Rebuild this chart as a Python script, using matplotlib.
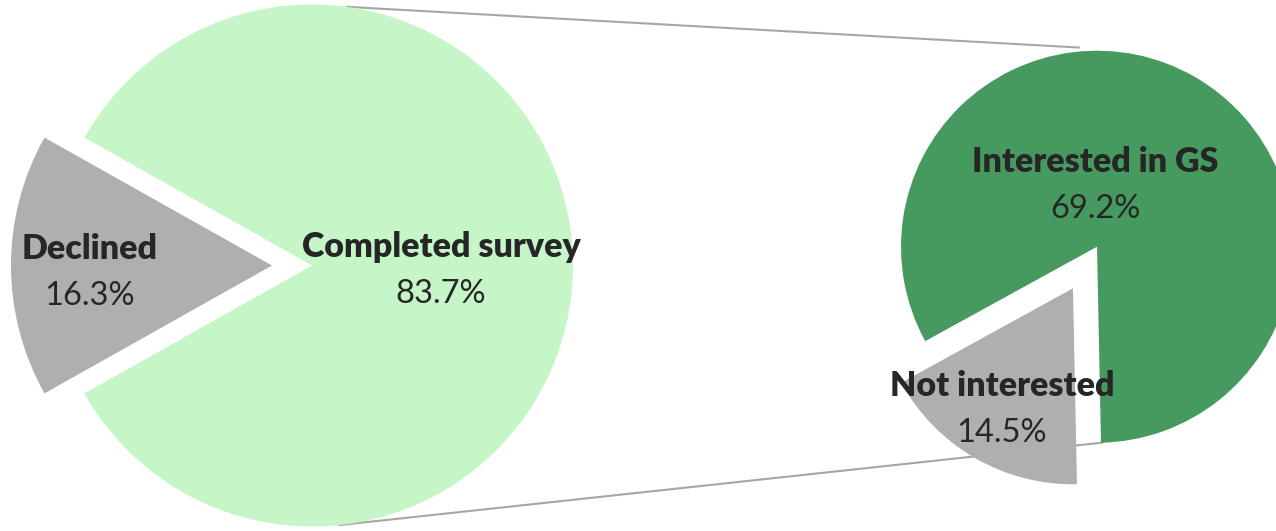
import numpy as np
import matplotlib.pyplot as plt

# data
outer_labels = ['Declined', 'Completed survey']
outer_values = [16.3, 83.7]
inner_labels = ['Not interested', 'Interested in GS']
inner_values = [14.5, 69.2]

outer_colors = ['#afafaf', '#c6f6c8']
inner_colors = ['#afafaf', '#479a5f']
txt_color = '#262626'

plt.rcParams['font.family'] = ['Lato', 'DejaVu Sans']

W, H = 1276, 531
fig = plt.figure(figsize=(W / 100, H / 100), dpi=100)
ax = fig.add_axes([0, 0, 1, 1])

# left pie (pixel coords, y up); explode is in data units here
c1 = (312, H - 265.5)
r1 = 261
start1 = 180 - outer_values[0] / sum(outer_values) * 180
ax.pie(outer_values, colors=outer_colors, startangle=start1, counterclock=True,
       center=c1, radius=r1, explode=[40, 0],
       wedgeprops=dict(linewidth=0), frame=True)

# right pie
c2 = (1085, H - 267.5)
r2 = 196
ax.pie(inner_values, colors=inner_colors, startangle=208.8, counterclock=True,
       center=c2, radius=r2, explode=[24, 24],
       wedgeprops=dict(linewidth=0), frame=True)

# connector lines
green_apex = (c2[0] + 24 * np.cos(np.radians(60)), c2[1] + 24 * np.sin(np.radians(60)))
p_top_l = (c1[0] + r1 * np.cos(np.radians(82.3)), c1[1] + r1 * np.sin(np.radians(82.3)))
p_bot_l = (c1[0] + r1 * np.cos(np.radians(-83.9)), c1[1] + r1 * np.sin(np.radians(-83.9)))
p_top_r = (green_apex[0] + 200 * np.cos(np.radians(95.2)), green_apex[1] + 200 * np.sin(np.radians(95.2)))
p_bot_r = (green_apex[0] + r2 * np.cos(np.radians(-88.5)), green_apex[1] + r2 * np.sin(np.radians(-88.5)))
for a, b in [(p_top_l, p_top_r), (p_bot_l, p_bot_r)]:
    ax.plot([a[0], b[0]], [a[1], b[1]], color='#a6a6a6', lw=1.5, zorder=0)

# labels
def label(x, y, name, val):
    ax.text(x, H - y, name, ha='center', va='center', fontsize=24.5,
            fontweight='heavy', color=txt_color)
    ax.text(x, H - y - 47, f'{val:.1f}%', ha='center', va='center',
            fontsize=23.5, color=txt_color)

label(90, 249, outer_labels[0], outer_values[0])
label(441, 247, outer_labels[1], outer_values[1])
label(1002, 386, inner_labels[0], inner_values[0])
label(1095, 162, inner_labels[1], inner_values[1])

ax.set_xlim(0, W)
ax.set_ylim(0, H)
ax.set_aspect('equal')
ax.axis('off')

fig.savefig('out.png', dpi=100)
